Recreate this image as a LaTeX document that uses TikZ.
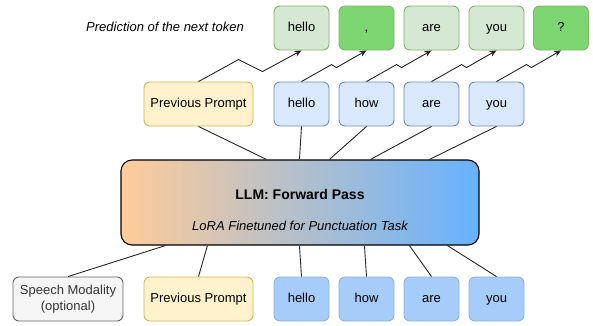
\documentclass[tikz,border=0pt]{standalone}
\usepackage{fontspec}
\setmainfont{Liberation Sans}
\usetikzlibrary{arrows.meta}
\definecolor{gfill}{HTML}{D5E8D4}
\definecolor{gline}{HTML}{82B366}
\definecolor{ggfill}{HTML}{7DD672}
\definecolor{bfill}{HTML}{DAE8FC}
\definecolor{bline}{HTML}{6C8EBF}
\definecolor{bbfill}{HTML}{A6CDFA}
\definecolor{bbline}{HTML}{8FB0D8}
\definecolor{yfill}{HTML}{FFF2CC}
\definecolor{yline}{HTML}{D6B656}
\definecolor{sfill}{HTML}{F5F5F5}
\definecolor{sline}{HTML}{666666}
\definecolor{lleft}{HTML}{FFCC99}
\definecolor{lright}{HTML}{66B2FF}
\begin{document}
\begin{tikzpicture}[x=1pt,y=-1pt,
  box/.style={draw, rounded corners=6pt, line width=0.9pt, minimum height=44pt, inner sep=0pt, align=center, font=\fontsize{13}{15}\selectfont},
  tok/.style={box, minimum width=55pt, text height=9.5pt, text depth=2.5pt},
  outg/.style={tok, fill=gfill, draw=gline},
  outgg/.style={tok, fill=ggfill, draw=gline},
  midb/.style={tok, fill=bfill, draw=bline},
  botb/.style={tok, fill=bbfill, draw=bbline},
  prompt/.style={box, minimum width=109pt, fill=yfill, draw=yline},
  conn/.style={draw=black!85, line width=0.9pt},
  pred/.style={conn, -{Stealth[length=7pt,width=6pt]}}
]
\useasboundingbox (0,0) rectangle (593,325);

% top row
\node[outg]  (t1) at (301.5,28) {hello};
\node[outgg] (t2) at (366.5,28) {,};
\node[outg]  (t3) at (431.5,28) {are};
\node[outg]  (t4) at (496.5,28) {you};
\node[outgg] (t5) at (561,28)   {?};
\node[font=\itshape\fontsize{13}{15}\selectfont] (ptxt) at (165,27) {Prediction of the next token};

% middle row
\node[prompt] (mp) at (198.5,104) {Previous Prompt};
\node[midb] (m1) at (301.5,104) {hello};
\node[midb] (m2) at (366.5,104) {how};
\node[midb] (m3) at (431.5,104) {are};
\node[midb] (m4) at (496.5,104) {you};

% LLM
\node[draw=black, line width=1.1pt, rounded corners=11pt, left color=lleft, right color=lright,
      minimum width=358pt, minimum height=85pt, inner sep=0pt] (llm) at (300,202.5) {};
\node[font=\bfseries\fontsize{14}{16}\selectfont] (llmt) at (300,194) {LLM: Forward Pass};
\node[font=\itshape\fontsize{13}{15}\selectfont] (llms) at (300,226) {LoRA Finetuned for Punctuation Task};

% bottom row
\node[box, minimum width=110pt, fill=sfill, draw=sline, text=black!80, font=\fontsize{13}{15.5}\selectfont] (sp) at (68,299) {Speech Modality\\(optional)};
\node[prompt] (bp) at (198.5,299) {Previous Prompt};
\node[botb] (b1) at (301.5,299) {hello};
\node[botb] (b2) at (366.5,299) {how};
\node[botb] (b3) at (431.5,299) {are};
\node[botb] (b4) at (496.5,299) {you};

% bottom -> LLM
\draw[conn] (sp.north) -- ([xshift=45pt]llm.south west);
\draw[conn] (bp.north) -- ([xshift=87pt]llm.south west);
\draw[conn] (b1.north) -- ([xshift=179pt]llm.south west);
\draw[conn] (b2.north) -- ([xshift=244pt]llm.south west);
\draw[conn] (b3.north) -- ([xshift=289pt]llm.south west);
\draw[conn] (b4.north) -- ([xshift=327pt]llm.south west);

% LLM -> middle
\draw[conn] ([xshift=146pt]llm.north west) -- (mp.south);
\draw[conn] ([xshift=179pt]llm.north west) -- (m1.south);
\draw[conn] ([xshift=209pt]llm.north west) -- (m2.south);
\draw[conn] ([xshift=250pt]llm.north west) -- (m3.south);
\draw[conn] ([xshift=309pt]llm.north west) -- (m4.south);

% middle -> top (zigzag arrows)
\draw[pred] (mp.north) -- ++(40,-22) -- ++(24,12) -- (t1.south);
\draw[pred] (m1.north) -- ++(30,-17) -- ++(5,3) -- (t2.south);
\draw[pred] (m2.north) -- ++(30,-17) -- ++(5,3) -- (t3.south);
\draw[pred] (m3.north) -- ++(30,-17) -- ++(5,3) -- (t4.south);
\draw[pred] (m4.north) -- ++(30,-17) -- ++(5,3) -- (t5.south);
\end{tikzpicture}
\end{document}
